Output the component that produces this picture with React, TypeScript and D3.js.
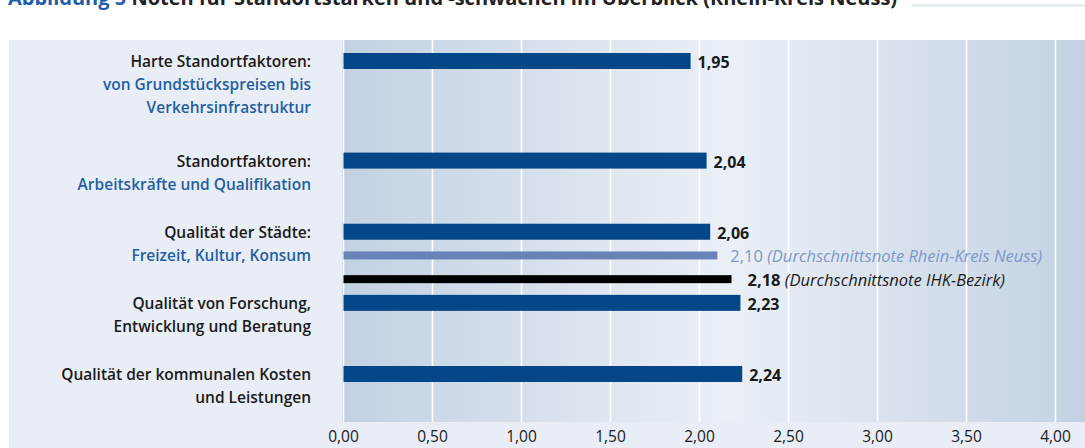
import React, { useEffect, useRef } from "react";
import * as d3 from "d3";

// ---- data ----
const categoryHeads: string[][] = [
  ["Harte Standortfaktoren:"],
  ["Standortfaktoren:"],
  ["Qualität der Städte:"],
  ["Qualität von Forschung,", "Entwicklung und Beratung"],
  ["Qualität der kommunalen Kosten", "und Leistungen"],
];
const categorySubs: string[][] = [
  ["von Grundstückspreisen bis", "Verkehrsinfrastruktur"],
  ["Arbeitskräfte und Qualifikation"],
  ["Freizeit, Kultur, Konsum"],
  [],
  [],
];
const values = [1.95, 2.04, 2.06, 2.23, 2.24];
const referenceNames = ["Durchschnittsnote Rhein-Kreis Neuss", "Durchschnittsnote IHK-Bezirk"];
const referenceValues = [2.1, 2.18];
const tickValues = [0, 0.5, 1, 1.5, 2, 2.5, 3, 3.5, 4];
const titleNumber = "Abbildung 5";
const titleText = "Noten für Standortstärken und -schwächen im Überblick (Rhein-Kreis Neuss)";

// ---- layout (row slots, not data) ----
const rowSlots = [0, 4.2, 7.2, 10.2, 13.2];
const refSlots = [8.2, 9.2];

const W = 1085;
const H = 448;
const FONT = "'Open Sans', 'Noto Sans', sans-serif";
const fmt = (v: number) => d3.format(".2f")(v).replace(".", ",");

export default function App() {
  const ref = useRef<SVGSVGElement | null>(null);

  useEffect(() => {
    const svg = d3.select(ref.current);
    svg.selectAll("*").remove();

    const x = d3.scaleLinear().domain([0, 4]).range([343.5, 1055.5]);
    const y = d3.scaleLinear().domain([0, 13.2]).range([61, 374]);
    const lineH = 23;

    const defs = svg.append("defs");
    const grad = defs
      .append("linearGradient")
      .attr("id", "plotGrad")
      .attr("x1", "0%")
      .attr("x2", "100%")
      .attr("y1", "0%")
      .attr("y2", "0%");
    grad.append("stop").attr("offset", "0%").attr("stop-color", "#c2d1e2");
    grad.append("stop").attr("offset", "52%").attr("stop-color", "#ebf0f7");
    grad.append("stop").attr("offset", "96%").attr("stop-color", "#c6d4e4");
    grad.append("stop").attr("offset", "100%").attr("stop-color", "#c2d1e2");

    // title (partly cut at top, as in the reference)
    const title = svg
      .append("text")
      .attr("x", 8)
      .attr("y", 5)
      .attr("font-family", FONT)
      .attr("font-weight", 700)
      .attr("font-size", 20)
      .attr("fill", "#222");
    title.append("tspan").attr("fill", "#1f5ea8").text(titleNumber + " ");
    title.append("tspan").text(titleText);
    svg
      .append("line")
      .attr("x1", 912)
      .attr("x2", W)
      .attr("y1", 5.5)
      .attr("y2", 5.5)
      .attr("stroke", "#dfe5ef")
      .attr("stroke-width", 2);

    // panel
    svg.append("rect").attr("x", 9).attr("y", 40).attr("width", W - 9).attr("height", H - 40).attr("fill", "#e9eef6");

    // plot area
    svg
      .append("rect")
      .attr("x", 342)
      .attr("y", 40)
      .attr("width", W - 342)
      .attr("height", 382)
      .attr("fill", "url(#plotGrad)");

    // gridlines
    svg
      .append("g")
      .selectAll("line")
      .data(tickValues)
      .join("line")
      .attr("x1", (d) => x(d))
      .attr("x2", (d) => x(d))
      .attr("y1", 40)
      .attr("y2", 422)
      .attr("stroke", "#ffffff")
      .attr("stroke-width", 1.6);

    // tick labels
    svg
      .append("g")
      .selectAll("text")
      .data(tickValues)
      .join("text")
      .attr("x", (d) => x(d))
      .attr("y", 436)
      .attr("text-anchor", "middle")
      .attr("dominant-baseline", "central")
      .attr("font-family", FONT)
      .attr("font-size", 15.5)
      .attr("fill", "#1a1a1a")
      .text((d) => fmt(d));

    // category labels
    const lab = svg.append("g").attr("font-family", FONT).attr("font-size", 15.5).attr("font-weight", 600);
    categoryHeads.forEach((heads, i) => {
      const cy = y(rowSlots[i]);
      const lines = [
        ...heads.map((t) => ({ t, c: "#1a1a1a" })),
        ...categorySubs[i].map((t) => ({ t, c: "#1f5fa3" })),
      ];
      lines.forEach((ln, j) => {
        lab
          .append("text")
          .attr("x", 311)
          .attr("y", cy + j * lineH)
          .attr("text-anchor", "end")
          .attr("dominant-baseline", "central")
          .attr("fill", ln.c)
          .text(ln.t);
      });
    });

    // main bars
    const barH = 16;
    svg
      .append("g")
      .selectAll("rect")
      .data(values)
      .join("rect")
      .attr("x", x(0))
      .attr("y", (_, i) => y(rowSlots[i]) - barH / 2)
      .attr("width", (d) => x(d) - x(0))
      .attr("height", barH)
      .attr("fill", "#034788");

    svg
      .append("g")
      .selectAll("text")
      .data(values)
      .join("text")
      .attr("x", (d) => x(d) + 7)
      .attr("y", (_, i) => y(rowSlots[i]) + 1)
      .attr("dominant-baseline", "central")
      .attr("font-family", FONT)
      .attr("font-size", 16)
      .attr("font-weight", 700)
      .attr("fill", "#1a1a1a")
      .text((d) => fmt(d));

    // reference bars
    const refColors = ["#6983b9", "#000000"];
    const refTextColors = ["#7f97c9", "#1a1a1a"];
    const refNumWeights = [400, 700];
    const refH = 8;
    referenceValues.forEach((v, i) => {
      const cy = y(refSlots[i]);
      svg
        .append("rect")
        .attr("x", x(0))
        .attr("y", cy - refH / 2)
        .attr("width", x(v) - x(0))
        .attr("height", refH)
        .attr("fill", refColors[i]);
      const t = svg
        .append("text")
        .attr("x", x(v) + 13 + i * 3)
        .attr("y", cy)
        .attr("dominant-baseline", "central")
        .attr("font-family", FONT)
        .attr("font-size", 16.5)
        .attr("fill", refTextColors[i]);
      t.append("tspan").attr("font-weight", refNumWeights[i]).text(fmt(v) + " ");
      t.append("tspan").attr("font-style", "italic").text("(" + referenceNames[i] + ")");
    });
  }, []);

  return (
    <svg
      ref={ref}
      width={W}
      height={H}
      style={{ position: "absolute", left: 0, top: 0, background: "#ffffff", display: "block" }}
    />
  );
}
